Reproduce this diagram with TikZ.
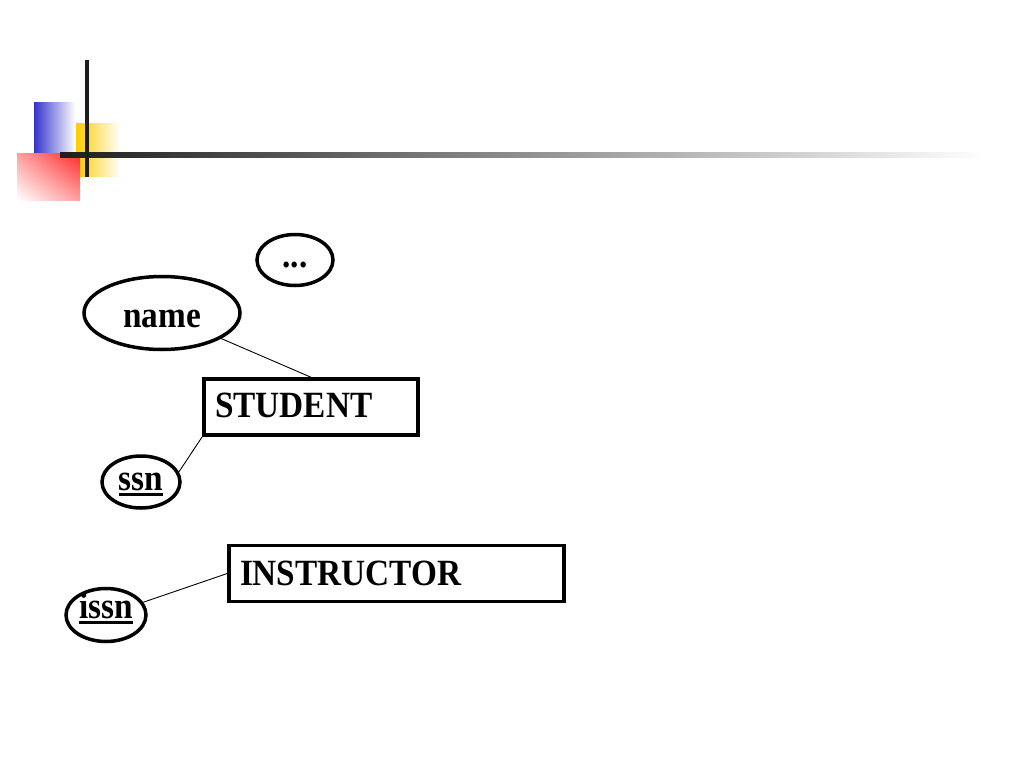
\documentclass[tikz,border=0pt]{standalone}
\usepackage{fontspec}
\setmainfont{Liberation Serif}
\newfontfamily\slidefont[FakeStretch=0.9]{Liberation Serif}
\usepackage{tikz}
\usetikzlibrary{shapes.geometric,shadings}

\definecolor{deckblue}{RGB}{51,51,204}
\definecolor{deckyellow}{RGB}{255,204,0}
\definecolor{deckred}{RGB}{255,40,40}
\definecolor{deckline}{RGB}{30,30,30}

% key attribute: thick underline below the text
\newcommand{\keyattr}[1]{\sbox0{#1}\rlap{\usebox0}\rule[-5.5pt]{\wd0}{2.8pt}}

\begin{document}
\begin{tikzpicture}[x=1pt, y=-1pt,
    attr/.style={ellipse, draw, line width=3.5pt, inner sep=0pt, text depth=0pt,
      font=\slidefont\fontsize{37}{44}\selectfont\bfseries},
    entity/.style={rectangle, draw, line width=3.5pt, inner xsep=11pt,
      minimum height=56pt, align=left,
      font=\slidefont\fontsize{37}{44}\selectfont\bfseries},
    link/.style={line width=0.9pt}]
  \useasboundingbox (0,0) rectangle (1024,768);
  % slide decoration in the top left corner
  \shade[left color=deckblue, right color=white] (34,102) rectangle (75,153);
  \shade[left color=deckyellow, right color=white] (76,123) rectangle (120,176);
  \shade[upper right=deckred, upper left=deckred!45, lower right=deckred!45,
    lower left=white] (17,153) rectangle (80,200);
  \shade[left color=deckline, right color=white] (60,152.5) rectangle (985,157.5);
  \fill[deckline] (85,60) rectangle (89,177);
  % entities and attributes
  \node[attr, minimum width=76pt, minimum height=51pt, text height=14pt] (more) at (295,260) {...};
  \node[attr, minimum width=156pt, minimum height=73pt, text height=28pt] (name) at (162,313) {name};
  \node[entity, text width=192pt, text height=24pt, text depth=4pt] (student) at (311,407) {STUDENT};
  \node[attr, minimum width=78pt, minimum height=52pt, text height=16pt] (ssn) at (141,482) {\keyattr{ssn}};
  \node[entity, text width=313pt, text height=25pt, text depth=2pt] (instructor) at (396.5,573.5) {INSTRUCTOR};
  \node[attr, minimum width=80pt, minimum height=53pt, text height=6pt] (issn) at (106,615) {\keyattr{issn}};
  \draw[link] (name) -- (student.north);
  \draw[link] (ssn.15) -- (student.south west);
  \draw[link] (issn) -- (instructor.west);
\end{tikzpicture}
\end{document}
